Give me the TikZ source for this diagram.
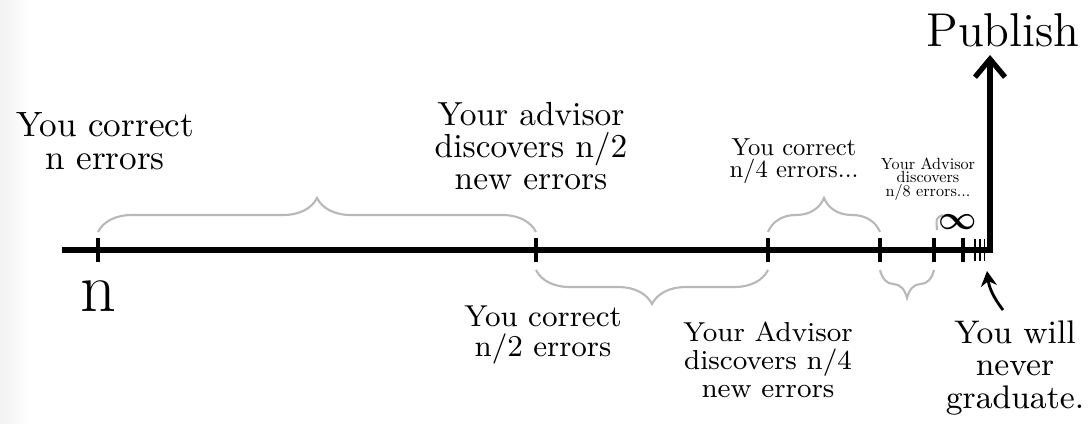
\documentclass[tikz,border=0pt]{standalone}
\usepackage{amsmath, amssymb}
\usepackage{tikz}
\usetikzlibrary{arrows.meta}
\usetikzlibrary{positioning}
\usetikzlibrary{decorations.pathreplacing}

\begin{document}
\begin{tikzpicture}[x=0.01cm,y=-0.01cm,thick]
\tikzstyle{axisline}=[line width=1.5pt,line join=miter]
\tikzstyle{tickmark}=[line width=1.4pt]
\tikzstyle{gbrace}=[draw=black!28,line width=0.6pt,decorate,decoration={brace,amplitude=0.34cm}]
\tikzstyle{note}=[align=center,inner sep=0pt]
\useasboundingbox (0,0) rectangle (1088,423);
\shade[left color=black!5,right color=white] (0,0) rectangle (30,423);

% the time line
\coordinate (start) at (62,250);
\coordinate (corner) at (990,250);
\coordinate (top) at (990,55);
\draw[axisline,-{Straight Barb[length=1.8mm,width=3mm]}] (start) -- (corner) -- (top);

\coordinate (t0) at (98,250);
\coordinate (t1) at (536,250);
\coordinate (t2) at (768,250);
\coordinate (t3) at (880,250);
\coordinate (t4) at (934,250);
\coordinate (t5) at (963,250);
\coordinate (t6) at (975,250);
\coordinate (t7) at (980,250);
\coordinate (t8) at (984.5,250);
\foreach \t in {t0,t1,t2,t3,t4,t5}
  \draw[tickmark] ([yshift=0.12cm]\t) -- ([yshift=-0.12cm]\t);
\foreach \t in {t6,t7,t8}
  \draw[tickmark,line width=0.55pt] ([yshift=0.11cm]\t) -- ([yshift=-0.11cm]\t);

% braces
\draw[gbrace] ([yshift=0.18cm]t0) -- ([yshift=0.18cm]t1);
\draw[gbrace] ([yshift=-0.2cm]t2) -- ([yshift=-0.2cm]t1);
\draw[gbrace] ([yshift=0.18cm]t2) -- ([yshift=0.18cm]t3);
\draw[gbrace,decoration={amplitude=0.28cm}] ([yshift=-0.2cm]t4) -- ([yshift=-0.2cm]t3);
\draw[draw=black!28,line width=0.6pt] (937,230) .. controls (936,218) .. (943,215);

% labels
\node[note,font=\fontsize{13.5}{14}\selectfont] (publish) at (1003,30) {Publish};
\node[note,font=\fontsize{20}{20}\selectfont] (nlabel) at (98,296) {n};
\node[note,font=\fontsize{10}{9.5}\selectfont] (errA) at (105,141) {You correct\\n errors};
\node[note,font=\fontsize{9.5}{9}\selectfont] (advA) at (531,146) {Your advisor\\discovers n/2\\new errors};
\node[note,font=\fontsize{8.6}{8.6}\selectfont] (errB) at (543,335) {You correct\\n/2 errors};
\node[note,font=\fontsize{7.8}{8}\selectfont] (advB) at (768,360) {Your Advisor\\discovers n/4\\new errors};
\node[note,font=\fontsize{10}{9}\selectfont,scale=0.7] (errC) at (794,161) {You correct\\n/4 errors...};
\node[note,font=\fontsize{10}{8.5}\selectfont,scale=0.46] (advC) at (928,179) {Your Advisor\\discovers\\n/8 errors...};
\node[note,font=\fontsize{10}{10}\selectfont,scale=0.95] (inf) at (958,222) {$\boldsymbol{\infty}$};
\node[note,font=\fontsize{9.3}{9.2}\selectfont] (never) at (1015,368) {You will\\never\\graduate.};

% the last arrow
\coordinate (tail) at (1003,310);
\coordinate (tip) at (987,271);
\draw[line width=0.8pt,-{Stealth[length=1.5mm,width=1.6mm]}] (tail) to[bend left=15] (tip);
\end{tikzpicture}
\end{document}
